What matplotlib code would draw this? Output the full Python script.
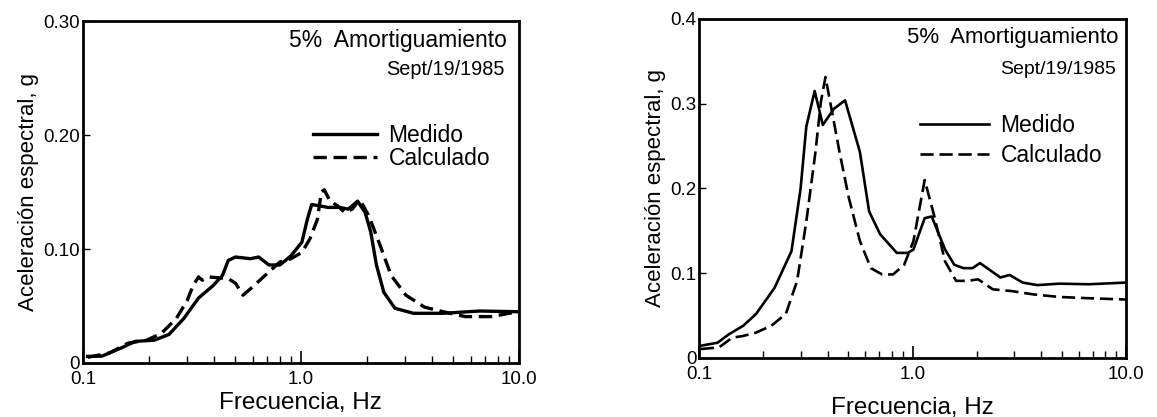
import numpy as np
import matplotlib
matplotlib.use('Agg')
import matplotlib.pyplot as plt
from matplotlib.ticker import FixedLocator, FixedFormatter, NullFormatter

plt.rcParams['font.family'] = ['Liberation Sans', 'DejaVu Sans']

# Left panel: spectra (frequency Hz, acceleration g)
left_med_f = [0.105, 0.122, 0.149, 0.174, 0.212, 0.248, 0.290, 0.339, 0.396, 0.437, 0.464,
              0.501, 0.586, 0.64, 0.713, 0.80, 0.90, 1.01, 1.07, 1.12, 1.21, 1.33, 1.50,
              1.65, 1.82, 1.97, 2.09, 2.22, 2.40, 2.70, 3.28, 4.49, 6.6, 9.9]
left_med_a = [0.0058, 0.006, 0.013, 0.019, 0.020, 0.025, 0.039, 0.057, 0.068, 0.077, 0.090,
              0.093, 0.0915, 0.093, 0.086, 0.086, 0.094, 0.106, 0.126, 0.139, 0.138, 0.1365, 0.1365,
              0.135, 0.142, 0.132, 0.115, 0.086, 0.062, 0.048, 0.0436, 0.0436, 0.0456, 0.045]

left_calc_f = [0.105, 0.132, 0.161, 0.196, 0.229, 0.268, 0.301, 0.320, 0.339, 0.353, 0.377,
               0.428, 0.464, 0.501, 0.542, 0.586, 0.686, 0.80, 0.90, 1.01, 1.10, 1.19, 1.24,
               1.28, 1.36, 1.47, 1.59, 1.72, 1.86, 2.05, 2.31, 2.59, 3.03, 3.69, 4.49, 5.68,
               7.46, 9.9]
left_calc_a = [0.005, 0.0087, 0.0174, 0.020, 0.026, 0.039, 0.055, 0.068, 0.0755, 0.0726, 0.0755,
               0.0746, 0.074, 0.070, 0.0595, 0.065, 0.077, 0.0886, 0.0915, 0.097, 0.109, 0.126, 0.150,
               0.152, 0.142, 0.138, 0.132, 0.135, 0.1437, 0.129, 0.103, 0.077, 0.0595, 0.049, 0.045,
               0.0407, 0.0407, 0.045]

# Right panel
right_med_f = [0.102, 0.122, 0.138, 0.161, 0.185, 0.226, 0.271, 0.299, 0.318, 0.348, 0.380,
               0.428, 0.483, 0.567, 0.626, 0.705, 0.844, 0.95, 1.01, 1.14, 1.23, 1.42, 1.57,
               1.73, 1.91, 2.07, 2.58, 2.85, 3.28, 3.84, 4.88, 6.71, 10.0]
right_med_a = [0.0145, 0.018, 0.028, 0.038, 0.052, 0.083, 0.126, 0.200, 0.273, 0.315, 0.275,
               0.294, 0.304, 0.243, 0.173, 0.146, 0.124, 0.124, 0.128, 0.165, 0.167, 0.128, 0.110,
               0.106, 0.106, 0.112, 0.095, 0.098, 0.089, 0.086, 0.0877, 0.087, 0.089]

right_calc_f = [0.102, 0.124, 0.143, 0.161, 0.185, 0.218, 0.255, 0.288, 0.318, 0.351, 0.372,
                0.391, 0.420, 0.455, 0.503, 0.567, 0.638, 0.72, 0.811, 0.914, 1.01, 1.14, 1.26,
                1.42, 1.60, 1.80, 2.03, 2.38, 2.91, 3.69, 4.88, 6.71, 10.0]
right_calc_a = [0.0106, 0.0125, 0.024, 0.026, 0.030, 0.038, 0.052, 0.091, 0.161, 0.243, 0.302,
                0.3315, 0.290, 0.243, 0.189, 0.138, 0.106, 0.0986, 0.0986, 0.110, 0.138, 0.210, 0.169,
                0.114, 0.091, 0.091, 0.0928, 0.081, 0.079, 0.075, 0.072, 0.0705, 0.069]

left_yticks = [0, 0.10, 0.20, 0.30]
left_ylabels = ['0', '0.10', '0.20', '0.30']
right_yticks = [0, 0.1, 0.2, 0.3, 0.4]
right_ylabels = ['0', '0.1', '0.2', '0.3', '0.4']
x_ticks = [0.1, 1.0, 10.0]
x_labels = ['0.1', '1.0', '10.0']


def style_axes(ax, ymax, yticks, ylabels, xlabelpad):
    ax.set_xscale('log')
    ax.set_xlim(0.1, 10.0)
    ax.set_ylim(0, ymax)
    ax.xaxis.set_major_locator(FixedLocator(x_ticks))
    ax.xaxis.set_major_formatter(FixedFormatter(x_labels))
    minors = [m * d for d in (0.1, 1.0) for m in range(2, 10)]
    ax.xaxis.set_minor_locator(FixedLocator(minors))
    ax.xaxis.set_minor_formatter(NullFormatter())
    ax.set_yticks(yticks)
    ax.set_yticklabels(ylabels)
    ax.tick_params(axis='x', which='major', direction='in', length=9, width=1.2,
                   labelsize=13.5, pad=6)
    ax.tick_params(axis='x', which='minor', direction='in', length=5, width=1.0)
    ax.tick_params(axis='y', direction='in', length=5, width=1.0, labelsize=13.5, pad=2)
    for s in ax.spines.values():
        s.set_linewidth(2.0)
    ax.set_xlabel('Frecuencia, Hz', fontsize=17.5, labelpad=xlabelpad)
    ax.set_ylabel('Aceleración espectral, g', fontsize=16, labelpad=3)


fig = plt.figure(figsize=(11.57, 4.17), dpi=100)
ax1 = fig.add_axes([0.0717, 0.1295, 0.3768, 0.820])
ax2 = fig.add_axes([0.6042, 0.1415, 0.369, 0.813])

ax1.plot(left_med_f, left_med_a, color='black', lw=2.4, solid_joinstyle='round',
         label='Medido')
ax1.plot(left_calc_f, left_calc_a, color='black', lw=2.4, ls=(0, (4, 2)),
         label='Calculado')
style_axes(ax1, 0.30, left_yticks, left_ylabels, 3)
ax1.text(0.972, 0.944, '5%  Amortiguamiento', transform=ax1.transAxes,
         ha='right', va='center', fontsize=16.5)
ax1.text(0.968, 0.857, 'Sept/19/1985', transform=ax1.transAxes,
         ha='right', va='center', fontsize=14.3)
ax1.legend(loc='upper left', bbox_to_anchor=(0.48, 0.76), frameon=False,
           fontsize=16.5, handlelength=2.8, handletextpad=0.5, labelspacing=0.0)

ax2.plot(right_med_f, right_med_a, color='black', lw=1.9, label='Medido')
ax2.plot(right_calc_f, right_calc_a, color='black', lw=1.9, ls=(0, (5, 2.2)),
         label='Calculado')
style_axes(ax2, 0.4, right_yticks, right_ylabels, 10)
ax2.text(0.981, 0.944, '5%  Amortiguamiento', transform=ax2.transAxes,
         ha='right', va='center', fontsize=16)
ax2.text(0.977, 0.85, 'Sept/19/1985', transform=ax2.transAxes,
         ha='right', va='center', fontsize=14)
ax2.legend(loc='upper left', bbox_to_anchor=(0.47, 0.78), frameon=False,
           fontsize=16.5, handlelength=3.0, handletextpad=0.5, labelspacing=0.3)

fig.savefig('out.png', dpi=100)
